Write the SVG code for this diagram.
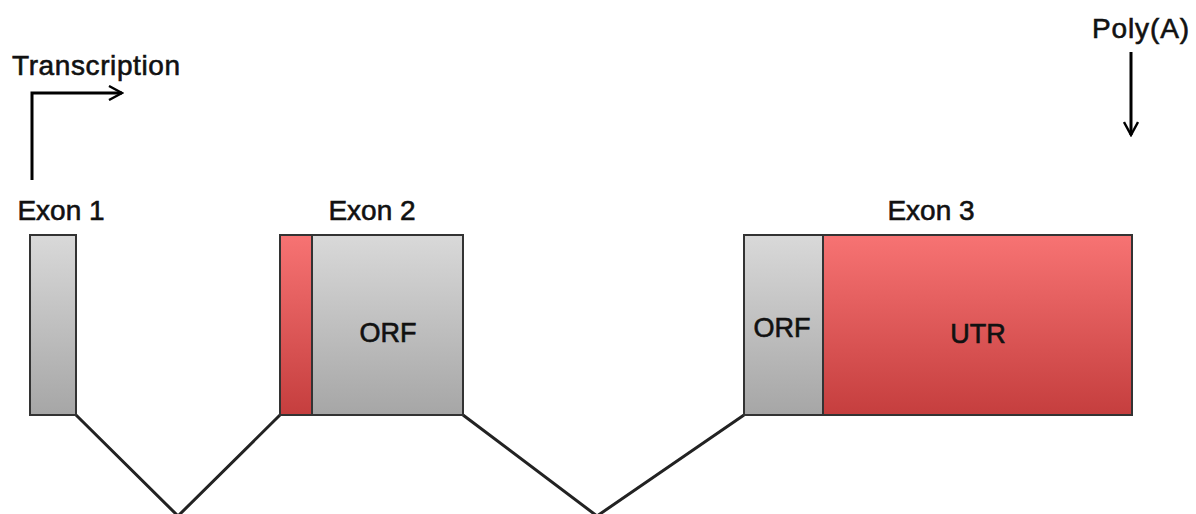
<svg xmlns="http://www.w3.org/2000/svg" width="1196" height="514" viewBox="0 0 1196 514">
<defs>
<linearGradient id="grey" x1="0" y1="0" x2="0" y2="1"><stop offset="0" stop-color="#d9d9d9"/><stop offset="1" stop-color="#a6a6a6"/></linearGradient>
<linearGradient id="red" x1="0" y1="0" x2="0" y2="1"><stop offset="0" stop-color="#f77373"/><stop offset="1" stop-color="#c53e3e"/></linearGradient>
<marker id="open" viewBox="0 0 16 16" refX="14" refY="8" markerWidth="16" markerHeight="16" markerUnits="userSpaceOnUse" orient="auto"><path d="M1,1 L14,8 L1,15" fill="none" stroke="#000" stroke-width="2.4"/></marker>
</defs>
<style>
.box{stroke:#333;stroke-width:2}
.t{font-family:"Liberation Sans",Arial,sans-serif;fill:#111;stroke:#111;stroke-width:0.6}
.lbl{font-size:28px}
.in{font-size:27px;text-anchor:middle}
.line{stroke:#222;stroke-width:3;fill:none}
.arr{stroke:#000;stroke-width:3;fill:none}
</style>
<rect width="1196" height="514" fill="#fff"/>
<g id="connectors">
<polyline class="line" points="76,415 178,516 280,415"/>
<polyline class="line" points="463,415 597,516 744,415"/>
</g>
<g id="transcription">
<polyline class="arr" points="32,180 32,93 122,93" marker-end="url(#open)"/>
<text class="t lbl" x="12" y="75" textLength="168">Transcription</text>
</g>
<g id="polyA">
<line class="arr" x1="1131" y1="52" x2="1131" y2="135" marker-end="url(#open)"/>
<text class="t lbl" x="1092" y="38" textLength="97">Poly(A)</text>
</g>
<g id="exon1">
<text class="t lbl" x="61" y="220" text-anchor="middle">Exon 1</text>
<rect class="box" x="30" y="235" width="46" height="180" fill="url(#grey)"/>
</g>
<g id="exon2">
<text class="t lbl" x="372" y="220" text-anchor="middle">Exon 2</text>
<rect class="box" x="280" y="235" width="32" height="180" fill="url(#red)"/>
<rect class="box" x="312" y="235" width="151" height="180" fill="url(#grey)"/>
<text class="t in" x="388" y="342">ORF</text>
</g>
<g id="exon3">
<text class="t lbl" x="931" y="220" text-anchor="middle">Exon 3</text>
<rect class="box" x="744" y="235" width="79" height="180" fill="url(#grey)"/>
<rect class="box" x="823" y="235" width="309" height="180" fill="url(#red)"/>
<text class="t in" x="782" y="337">ORF</text>
<text class="t in" x="978" y="343">UTR</text>
</g>
</svg>
